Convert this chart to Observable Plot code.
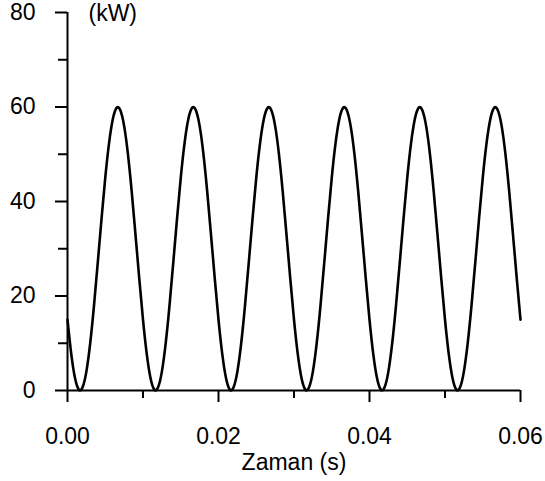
<!DOCTYPE html>
<html>
<head>
<meta charset="utf-8">
<script src="https://cdn.jsdelivr.net/npm/d3@7"></script>
<script src="https://cdn.jsdelivr.net/npm/@observablehq/plot@0.6"></script>
<style>
  html, body { margin: 0; padding: 0; background: #fff; }
</style>
</head>
<body>
<div id="chart"></div>
<script>
// Time samples (s)
const time = [
  0.0000,0.0005,0.0010,0.0015,0.0020,0.0025,0.0030,0.0035,0.0040,0.0045,
  0.0050,0.0055,0.0060,0.0065,0.0070,0.0075,0.0080,0.0085,0.0090,0.0095,
  0.0100,0.0105,0.0110,0.0115,0.0120,0.0125,0.0130,0.0135,0.0140,0.0145,
  0.0150,0.0155,0.0160,0.0165,0.0170,0.0175,0.0180,0.0185,0.0190,0.0195,
  0.0200,0.0205,0.0210,0.0215,0.0220,0.0225,0.0230,0.0235,0.0240,0.0245,
  0.0250,0.0255,0.0260,0.0265,0.0270,0.0275,0.0280,0.0285,0.0290,0.0295,
  0.0300,0.0305,0.0310,0.0315,0.0320,0.0325,0.0330,0.0335,0.0340,0.0345,
  0.0350,0.0355,0.0360,0.0365,0.0370,0.0375,0.0380,0.0385,0.0390,0.0395,
  0.0400,0.0405,0.0410,0.0415,0.0420,0.0425,0.0430,0.0435,0.0440,0.0445,
  0.0450,0.0455,0.0460,0.0465,0.0470,0.0475,0.0480,0.0485,0.0490,0.0495,
  0.0500,0.0505,0.0510,0.0515,0.0520,0.0525,0.0530,0.0535,0.0540,0.0545,
  0.0550,0.0555,0.0560,0.0565,0.0570,0.0575,0.0580,0.0585,0.0590,0.0595,
  0.0600
];
// Power (kW)
const power = [
  15,7.7,2.6,0.2,0.7,4.0,9.9,17.8,26.9,36.2,45,52.3,57.4,59.8,59.3,56.0,50.1,42.2,33.1,23.8,
  15,7.7,2.6,0.2,0.7,4.0,9.9,17.8,26.9,36.2,45,52.3,57.4,59.8,59.3,56.0,50.1,42.2,33.1,23.8,
  15,7.7,2.6,0.2,0.7,4.0,9.9,17.8,26.9,36.2,45,52.3,57.4,59.8,59.3,56.0,50.1,42.2,33.1,23.8,
  15,7.7,2.6,0.2,0.7,4.0,9.9,17.8,26.9,36.2,45,52.3,57.4,59.8,59.3,56.0,50.1,42.2,33.1,23.8,
  15,7.7,2.6,0.2,0.7,4.0,9.9,17.8,26.9,36.2,45,52.3,57.4,59.8,59.3,56.0,50.1,42.2,33.1,23.8,
  15,7.7,2.6,0.2,0.7,4.0,9.9,17.8,26.9,36.2,45,52.3,57.4,59.8,59.3,56.0,50.1,42.2,33.1,23.8,
  15
];
const xMajorTicks = [0, 0.02, 0.04, 0.06];
const xMinorTicks = [0.01, 0.03, 0.05];
const yMajorTicks = [0, 20, 40, 60, 80];
const yMinorTicks = [10, 30, 50, 70];
const yUnit = "(kW)";
const xTitle = "Zaman (s)";

const data = time.map((t, i) => ({t, p: power[i]}));

const chart = Plot.plot({
  width: 545,
  height: 481,
  marginTop: 12,
  marginRight: 25,
  marginBottom: 91,
  marginLeft: 67,
  style: {background: "#fff", color: "#000", fontFamily: "'Liberation Sans', Arial, sans-serif", fontSize: "23px"},
  x: {domain: [0, 0.06]},
  y: {domain: [0, 80]},
  marks: [
    Plot.axisX(xMajorTicks, {tickSize: 12, tickPadding: 25, tickFormat: d3.format(".2f"), label: null, strokeWidth: 2, fontSize: 23}),
    Plot.axisX(xMinorTicks, {tickSize: 8, text: null, label: null, strokeWidth: 2}),
    Plot.axisY(yMajorTicks, {tickSize: 12, tickPadding: 20, label: null, strokeWidth: 2, fontSize: 23}),
    Plot.axisY(yMinorTicks, {tickSize: 9, text: null, label: null, strokeWidth: 2}),
    Plot.ruleY([0], {strokeWidth: 2}),
    Plot.ruleX([0], {strokeWidth: 2}),
    Plot.line(data, {x: "t", y: "p", curve: "natural", stroke: "#000", strokeWidth: 2.6}),
    Plot.text([yUnit], {frameAnchor: "top-left", dx: 21, dy: 1, lineAnchor: "middle", textAnchor: "start", fontSize: 23}),
    Plot.text([xTitle], {frameAnchor: "bottom", dy: 72, lineAnchor: "middle", fontSize: 23})
  ]
});
document.getElementById("chart").appendChild(chart);
</script>
</body>
</html>
